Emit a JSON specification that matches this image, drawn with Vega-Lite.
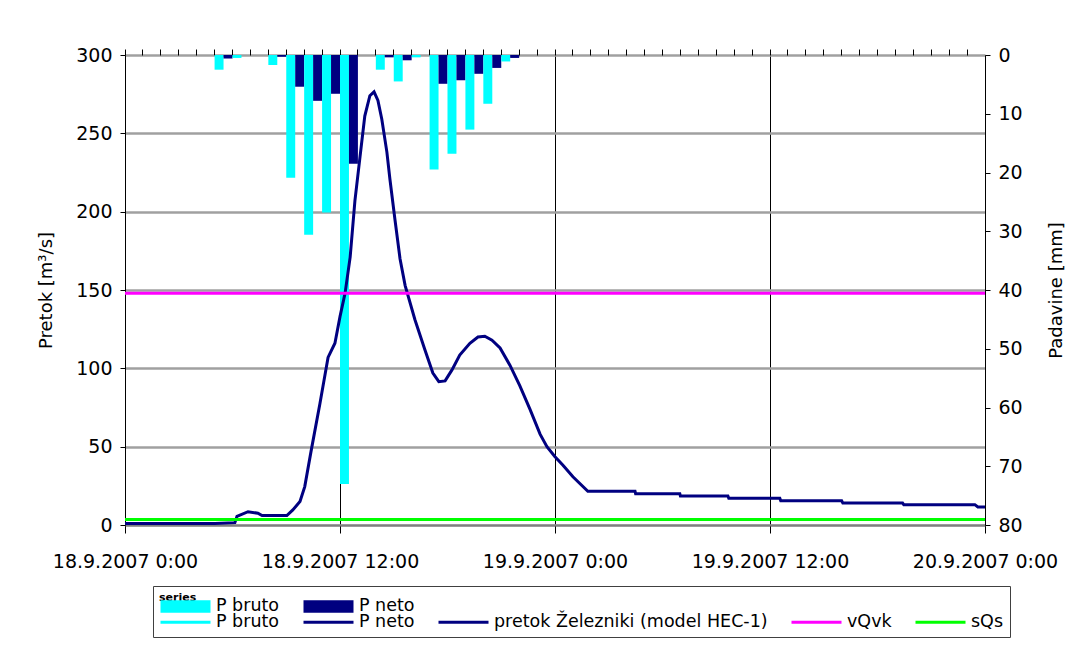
{
  "$schema": "https://vega.github.io/schema/vega-lite/v6.json",
  "width": 860,
  "height": 470,
  "autosize": {"type": "none"},
  "padding": {"left": 125, "top": 55, "right": 96, "bottom": 125},
  "background": "white",
  "config": {
    "view": {"stroke": null},
    "font": "DejaVu Sans",
    "axis": {
      "labelFont": "DejaVu Sans", "labelFontSize": 19, "labelColor": "black",
      "titleFont": "DejaVu Sans", "titleFontSize": 18, "titleFontWeight": "normal", "titleColor": "black",
      "tickColor": "black", "domainColor": "black"
    },
    "legend": {
      "orient": "none", "direction": "horizontal",
      "labelFont": "DejaVu Sans", "labelFontSize": 17.5, "labelColor": "black", "labelLimit": 0,
      "symbolSize": 625, "labelOffset": 29, "columnPadding": 17, "symbolOpacity": 1
    }
  },
  "datasets": {
    "precip": [
      {"time": "2007-09-18T05:00", "kind": "P bruto", "mm": 2.5},
      {"time": "2007-09-18T05:00", "kind": "P neto", "mm": 0.6},
      {"time": "2007-09-18T06:00", "kind": "P bruto", "mm": 0.5},
      {"time": "2007-09-18T08:00", "kind": "P bruto", "mm": 1.7},
      {"time": "2007-09-18T08:00", "kind": "P neto", "mm": 0.3},
      {"time": "2007-09-18T09:00", "kind": "P bruto", "mm": 20.9},
      {"time": "2007-09-18T09:00", "kind": "P neto", "mm": 5.4},
      {"time": "2007-09-18T10:00", "kind": "P bruto", "mm": 30.6},
      {"time": "2007-09-18T10:00", "kind": "P neto", "mm": 7.8},
      {"time": "2007-09-18T11:00", "kind": "P bruto", "mm": 26.8},
      {"time": "2007-09-18T11:00", "kind": "P neto", "mm": 6.6},
      {"time": "2007-09-18T12:00", "kind": "P bruto", "mm": 73},
      {"time": "2007-09-18T12:00", "kind": "P neto", "mm": 18.5},
      {"time": "2007-09-18T14:00", "kind": "P bruto", "mm": 2.5},
      {"time": "2007-09-18T14:00", "kind": "P neto", "mm": 0.4},
      {"time": "2007-09-18T15:00", "kind": "P bruto", "mm": 4.5},
      {"time": "2007-09-18T15:00", "kind": "P neto", "mm": 0.9},
      {"time": "2007-09-18T16:00", "kind": "P bruto", "mm": 0.4},
      {"time": "2007-09-18T17:00", "kind": "P bruto", "mm": 19.5},
      {"time": "2007-09-18T17:00", "kind": "P neto", "mm": 4.9},
      {"time": "2007-09-18T18:00", "kind": "P bruto", "mm": 16.8},
      {"time": "2007-09-18T18:00", "kind": "P neto", "mm": 4.3},
      {"time": "2007-09-18T19:00", "kind": "P bruto", "mm": 12.7},
      {"time": "2007-09-18T19:00", "kind": "P neto", "mm": 3.2},
      {"time": "2007-09-18T20:00", "kind": "P bruto", "mm": 8.3},
      {"time": "2007-09-18T20:00", "kind": "P neto", "mm": 2.2},
      {"time": "2007-09-18T21:00", "kind": "P bruto", "mm": 1.1},
      {"time": "2007-09-18T21:00", "kind": "P neto", "mm": 0.5}
    ],
    "flow": [
      {"time": "2007-09-18T00:00:00", "Q": 1},
      {"time": "2007-09-18T05:01:00", "Q": 1},
      {"time": "2007-09-18T06:08:00", "Q": 1.5},
      {"time": "2007-09-18T06:15:00", "Q": 5.5},
      {"time": "2007-09-18T06:52:00", "Q": 8.5},
      {"time": "2007-09-18T07:25:00", "Q": 7.5},
      {"time": "2007-09-18T07:39:00", "Q": 6},
      {"time": "2007-09-18T09:02:00", "Q": 6},
      {"time": "2007-09-18T09:22:00", "Q": 9.6},
      {"time": "2007-09-18T09:46:00", "Q": 15},
      {"time": "2007-09-18T10:02:00", "Q": 24.5},
      {"time": "2007-09-18T10:23:00", "Q": 47},
      {"time": "2007-09-18T10:53:00", "Q": 77.7},
      {"time": "2007-09-18T11:20:00", "Q": 107},
      {"time": "2007-09-18T11:43:00", "Q": 116},
      {"time": "2007-09-18T12:00:00", "Q": 133},
      {"time": "2007-09-18T12:17:00", "Q": 148},
      {"time": "2007-09-18T12:34:00", "Q": 171},
      {"time": "2007-09-18T12:50:00", "Q": 207},
      {"time": "2007-09-18T13:07:00", "Q": 235},
      {"time": "2007-09-18T13:23:00", "Q": 261},
      {"time": "2007-09-18T13:40:00", "Q": 274},
      {"time": "2007-09-18T13:54:00", "Q": 276.5},
      {"time": "2007-09-18T14:07:00", "Q": 271},
      {"time": "2007-09-18T14:20:00", "Q": 259},
      {"time": "2007-09-18T14:37:00", "Q": 238},
      {"time": "2007-09-18T14:47:00", "Q": 221},
      {"time": "2007-09-18T15:04:00", "Q": 195},
      {"time": "2007-09-18T15:21:00", "Q": 170},
      {"time": "2007-09-18T15:38:00", "Q": 153},
      {"time": "2007-09-18T16:11:00", "Q": 131},
      {"time": "2007-09-18T16:44:00", "Q": 112},
      {"time": "2007-09-18T17:11:00", "Q": 97},
      {"time": "2007-09-18T17:31:00", "Q": 91.5},
      {"time": "2007-09-18T17:52:00", "Q": 92},
      {"time": "2007-09-18T18:15:00", "Q": 99},
      {"time": "2007-09-18T18:41:00", "Q": 108.5},
      {"time": "2007-09-18T19:15:00", "Q": 116},
      {"time": "2007-09-18T19:42:00", "Q": 120},
      {"time": "2007-09-18T20:05:00", "Q": 120.5},
      {"time": "2007-09-18T20:29:00", "Q": 118},
      {"time": "2007-09-18T20:56:00", "Q": 113},
      {"time": "2007-09-18T21:29:00", "Q": 102},
      {"time": "2007-09-18T22:02:00", "Q": 89},
      {"time": "2007-09-18T22:36:00", "Q": 74},
      {"time": "2007-09-18T23:10:00", "Q": 58},
      {"time": "2007-09-18T23:33:00", "Q": 50},
      {"time": "2007-09-19T00:00:00", "Q": 43.6},
      {"time": "2007-09-19T00:26:00", "Q": 38.3},
      {"time": "2007-09-19T01:00:00", "Q": 30.8},
      {"time": "2007-09-19T01:50:00", "Q": 21.5},
      {"time": "2007-09-19T04:28:00", "Q": 21.5},
      {"time": "2007-09-19T04:30:00", "Q": 20},
      {"time": "2007-09-19T06:58:00", "Q": 20},
      {"time": "2007-09-19T07:00:00", "Q": 18.5},
      {"time": "2007-09-19T09:39:00", "Q": 18.5},
      {"time": "2007-09-19T09:42:00", "Q": 17},
      {"time": "2007-09-19T12:33:00", "Q": 17},
      {"time": "2007-09-19T12:36:00", "Q": 15.5},
      {"time": "2007-09-19T16:00:00", "Q": 15.5},
      {"time": "2007-09-19T16:04:00", "Q": 14},
      {"time": "2007-09-19T19:24:00", "Q": 14},
      {"time": "2007-09-19T19:28:00", "Q": 13},
      {"time": "2007-09-19T23:26:00", "Q": 13},
      {"time": "2007-09-19T23:36:00", "Q": 11.5},
      {"time": "2007-09-20T00:00:00", "Q": 11.5}
    ],
    "levels": [
      {"series": "vQvk", "Q": 148},
      {"series": "sQs", "Q": 3.5}
    ]
  },
  "layer": [
    {
      "data": {"name": "precip"},
      "mark": {"type": "bar"},
      "encoding": {
        "x": {
          "field": "time", "type": "ordinal",
          "scale": {"paddingInner": 0, "paddingOuter": 0, "domain": [
            "2007-09-18T00:00", "2007-09-18T01:00", "2007-09-18T02:00", "2007-09-18T03:00", "2007-09-18T04:00", "2007-09-18T05:00",
            "2007-09-18T06:00", "2007-09-18T07:00", "2007-09-18T08:00", "2007-09-18T09:00", "2007-09-18T10:00", "2007-09-18T11:00",
            "2007-09-18T12:00", "2007-09-18T13:00", "2007-09-18T14:00", "2007-09-18T15:00", "2007-09-18T16:00", "2007-09-18T17:00",
            "2007-09-18T18:00", "2007-09-18T19:00", "2007-09-18T20:00", "2007-09-18T21:00", "2007-09-18T22:00", "2007-09-18T23:00",
            "2007-09-19T00:00", "2007-09-19T01:00", "2007-09-19T02:00", "2007-09-19T03:00", "2007-09-19T04:00", "2007-09-19T05:00",
            "2007-09-19T06:00", "2007-09-19T07:00", "2007-09-19T08:00", "2007-09-19T09:00", "2007-09-19T10:00", "2007-09-19T11:00",
            "2007-09-19T12:00", "2007-09-19T13:00", "2007-09-19T14:00", "2007-09-19T15:00", "2007-09-19T16:00", "2007-09-19T17:00",
            "2007-09-19T18:00", "2007-09-19T19:00", "2007-09-19T20:00", "2007-09-19T21:00", "2007-09-19T22:00", "2007-09-19T23:00"
          ]},
          "axis": {"orient": "top", "labels": false, "grid": false, "domain": false, "bandPosition": 0, "tickSize": 6, "tickColor": "black", "title": null}
        },
        "xOffset": {"field": "kind", "type": "nominal", "scale": {"domain": ["P bruto", "P neto"], "paddingInner": 0, "paddingOuter": 0}},
        "y": {
          "field": "mm", "type": "quantitative",
          "scale": {"domain": [0, 80], "reverse": true, "nice": false},
          "axis": {"orient": "right", "title": "Padavine [mm]", "titleAngle": -90, "titleBaseline": "top", "values": [0, 10, 20, 30, 40, 50, 60, 70, 80], "grid": false, "tickSize": 5, "labelPadding": 8, "titlePadding": 25}
        },
        "fill": {
          "field": "kind", "type": "nominal",
          "scale": {"domain": ["P bruto", "P neto"], "range": ["#00ffff", "#000080"]},
          "legend": {
            "title": null, "legendX": 31, "legendY": 534, "padding": 3, "zindex": 3,
            "symbolType": "M-1,-0.5H3V0.5H-1Z", "symbolStrokeWidth": 3, "symbolStrokeColor": "transparent"
          }
        }
      }
    },
    {
      "layer": [
        {
          "data": {"name": "flow"},
          "mark": {"type": "line", "strokeWidth": 3},
          "encoding": {
            "x": {
              "field": "time", "type": "temporal",
              "scale": {"domain": [{"year": 2007, "month": 9, "date": 18}, {"year": 2007, "month": 9, "date": 20}]},
              "axis": {
                "orient": "bottom", "format": "%-d.%-m.%Y %-H:%M",
                "values": [
                  {"year": 2007, "month": 9, "date": 18, "hours": 0},
                  {"year": 2007, "month": 9, "date": 18, "hours": 12},
                  {"year": 2007, "month": 9, "date": 19, "hours": 0},
                  {"year": 2007, "month": 9, "date": 19, "hours": 12},
                  {"year": 2007, "month": 9, "date": 20, "hours": 0}
                ],
                "grid": true, "gridColor": "black", "gridWidth": 1, "domainColor": "#808080", "domainWidth": 2, "tickSize": 8, "labelPadding": 19, "title": null, "labelFlush": false, "labelOverlap": false
              }
            },
            "y": {
              "field": "Q", "type": "quantitative",
              "scale": {"domain": [0, 300], "nice": false},
              "axis": {"orient": "left", "title": "Pretok [m³/s]", "values": [0, 50, 100, 150, 200, 250, 300], "grid": true, "gridColor": "#a0a0a0", "gridWidth": 2.5, "tickSize": 5, "labelPadding": 8, "titlePadding": 20}
            },
            "stroke": {
              "datum": "pretok Železniki (model HEC-1)", "type": "nominal",
              "scale": {
                "domain": ["P bruto", "P neto", "pretok Železniki (model HEC-1)", "vQvk", "sQs"],
                "range": ["#00ffff", "#000080", "#000080", "#ff00ff", "#00ff00"]
              },
              "legend": {
                "title": null, "legendX": 28, "legendY": 531, "padding": 6, "zindex": 1,
                "strokeColor": "#404040", "fillColor": "white",
                "symbolType": "M-1,0H3", "symbolStrokeWidth": 3
              }
            }
          }
        },
        {
          "data": {"name": "levels"},
          "mark": {"type": "rule", "strokeWidth": 3},
          "encoding": {
            "y": {"field": "Q", "type": "quantitative"},
            "stroke": {"field": "series", "type": "nominal"}
          }
        }
      ]
    }
  ],
  "resolve": {"scale": {"x": "independent", "y": "independent"}, "axis": {"x": "independent"}}
}
